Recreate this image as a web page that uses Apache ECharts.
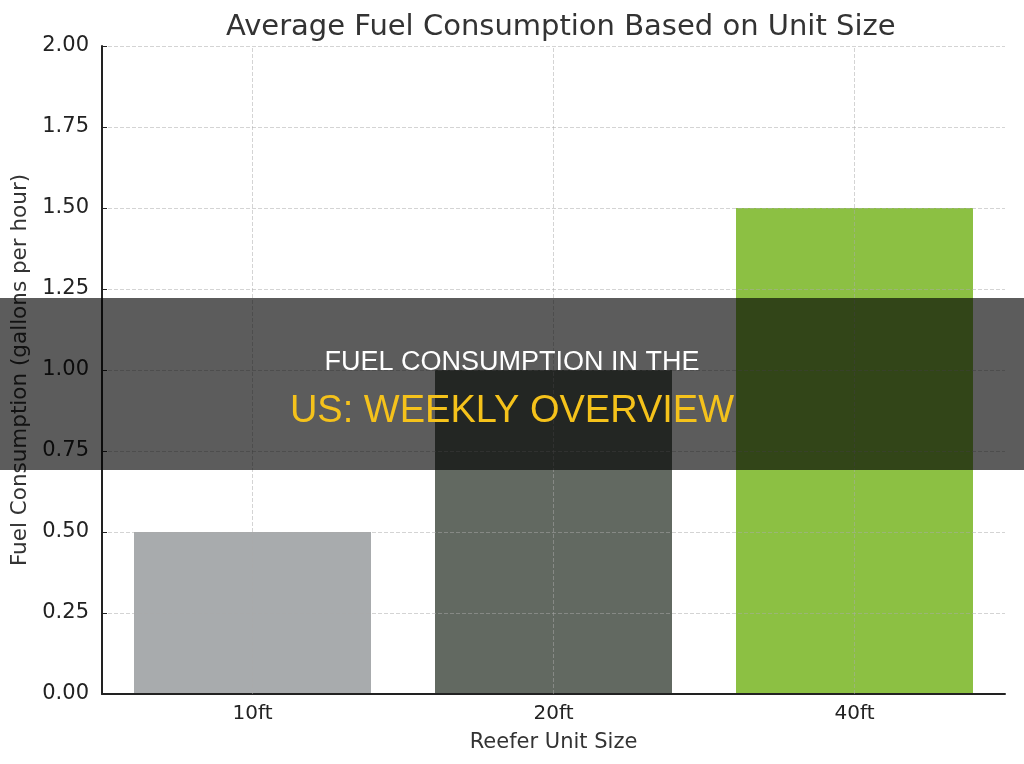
<!DOCTYPE html>
<html>
<head>
<meta charset="utf-8">
<script src="https://cdn.jsdelivr.net/npm/echarts@6/dist/echarts.min.js"></script>
<style>
  html, body { margin: 0; padding: 0; background: #fff; }
  #chart { width: 1024px; height: 764px; }
</style>
</head>
<body>
<div id="chart"></div>
<script>
// data
const unitSizes = ['10ft', '20ft', '40ft']
const fuelUse = [0.5, 1.0, 1.5]
const barColors = ['#a8abad', '#626961', '#8cc043']
const yTicks = [0, 2, 0.25]  // min, max, step

const font = 'DejaVu Sans'
const chart = echarts.init(document.getElementById('chart'))

const option = {
  backgroundColor: '#fff',
  animation: false,
  title: {
    text: 'Average Fuel Consumption Based on Unit Size',
    left: 221,
    top: 8,
    textStyle: { fontFamily: font, fontSize: 29, fontWeight: 'normal', color: '#333' }
  },
  grid: { left: 102, right: 19, top: 46, bottom: 70, outerBoundsMode: 'none', containLabel: false },
  xAxis: {
    type: 'category',
    data: unitSizes,
    z: 3,
    name: 'Reefer Unit Size',
    nameLocation: 'middle',
    nameGap: 38,
    nameTextStyle: { fontFamily: font, fontSize: 21, color: '#333' },
    axisLine: { lineStyle: { color: '#222', width: 2 } },
    axisTick: { inside: true, alignWithLabel: true, length: 5, lineStyle: { color: '#222' } },
    axisLabel: { fontFamily: font, fontSize: 20, color: '#222', margin: 10 },
    splitLine: { show: false }
  },
  yAxis: {
    type: 'value',
    min: yTicks[0],
    max: yTicks[1],
    interval: yTicks[2],
    z: 3,
    name: 'Fuel Consumption (gallons per hour)',
    nameLocation: 'middle',
    nameGap: 70,
    nameTextStyle: { fontFamily: font, fontSize: 21.5, color: '#333' },
    axisLine: { show: true, lineStyle: { color: '#222', width: 2 } },
    axisTick: { show: true, inside: true, length: 5, lineStyle: { color: '#222' } },
    axisLabel: {
      fontFamily: font, fontSize: 21, color: '#222', margin: 13,
      formatter: v => v.toFixed(2)
    },
    splitLine: { lineStyle: { color: 'rgba(170,170,170,0.5)', type: 'dashed', width: 1 } }
  },
  series: [
    {
      type: 'bar',
      data: fuelUse.map((v, i) => ({ value: v, itemStyle: { color: barColors[i] } })),
      barWidth: 237,
      markLine: {
        silent: true,
        symbol: 'none',
        label: { show: false },
        lineStyle: { color: 'rgba(170,170,170,0.5)', type: 'dashed', width: 1 },
        data: unitSizes.map(c => ({ xAxis: c }))
      }
    }
  ],
  graphic: [
    {
      type: 'rect',
      left: 0,
      top: 298,
      shape: { width: 1024, height: 172 },
      style: { fill: 'rgba(0,0,0,0.64)' },
      z: 100
    },
    {
      type: 'text',
      left: 'center',
      top: 349,
      style: {
        text: 'FUEL CONSUMPTION IN THE',
        fill: '#ffffff',
        font: '27px "Liberation Sans", Arial, sans-serif'
      },
      z: 101
    },
    {
      type: 'text',
      left: 'center',
      top: 393,
      style: {
        text: 'US: WEEKLY OVERVIEW',
        fill: '#f5c21b',
        font: '38px "Liberation Sans", Arial, sans-serif'
      },
      z: 101
    }
  ]
}
chart.setOption(option)
</script>
</body>
</html>
